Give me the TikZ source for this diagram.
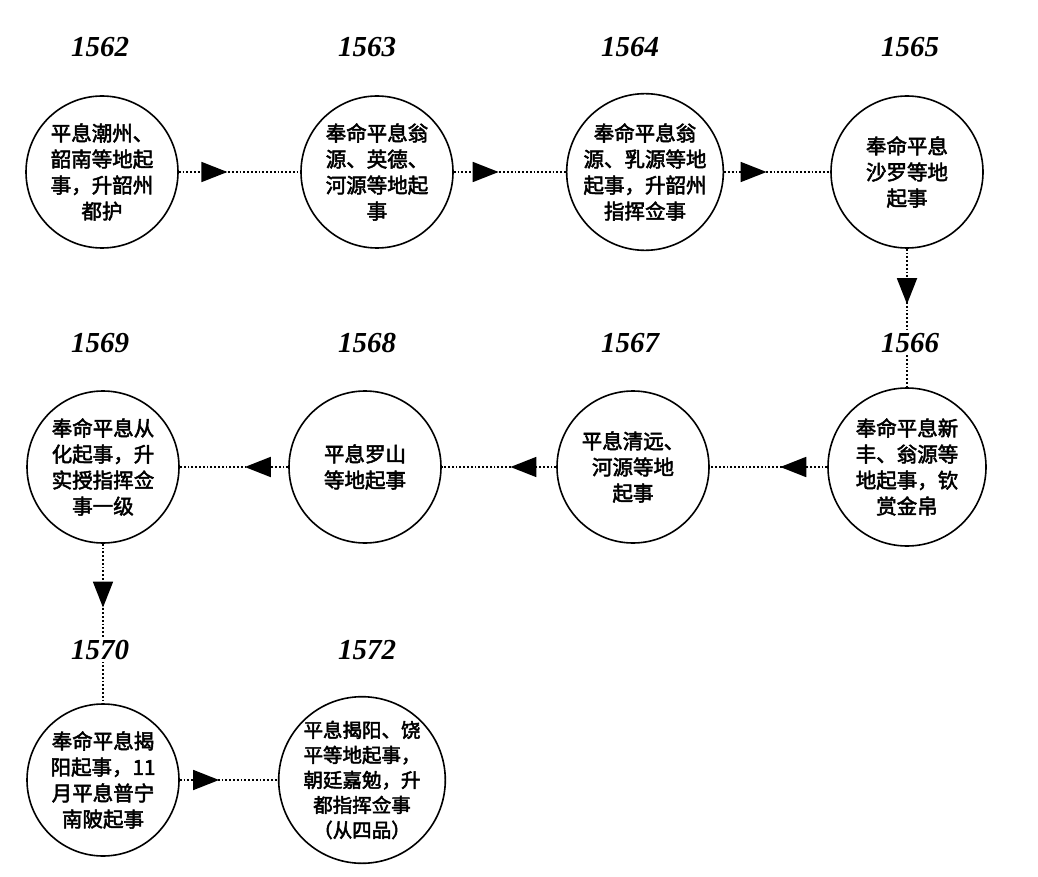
\documentclass[tikz,border=0pt]{standalone}
\usepackage{fontspec}
\setmainfont{Liberation Serif}
\newfontfamily\cjk[FakeBold=2.5]{Noto Sans CJK SC}
\usetikzlibrary{decorations.markings,arrows.meta}
\tikzset{
 ev/.style={circle,draw,line width=1.6pt,minimum size=152pt,inner sep=0pt,align=center,font=\cjk\fontsize{20.5}{26}\selectfont},
 yr/.style={font=\bfseries\itshape\fontsize{29}{30}\selectfont,fill=white,inner sep=2pt},
 con/.style={dotted,line width=1.8pt,postaction={decorate},decoration={markings,mark=at position 0.4 with {\arrow[solid]{Triangle[length=26pt,width=20pt]}}}}
}
\begin{document}
\begin{tikzpicture}[x=1pt,y=-1pt]
\useasboundingbox (0,0) rectangle (1038,877);
\node[ev] (a) at (102,172) {平息潮州、\\韶南等地起\\事，升韶州\\都护};
\node[ev] (b) at (377,172) {奉命平息翁\\源、英德、\\河源等地起\\事};
\node[ev] (c) at (645,172) {奉命平息翁\\源、乳源等地\\起事，升韶州\\指挥佥事};
\node[ev] (d) at (907,172) {奉命平息\\沙罗等地\\起事};
\node[ev,minimum size=158pt] (e) at (907,467) {奉命平息新\\丰、翁源等\\地起事，钦\\赏金帛};
\node[ev] (f) at (633,467) {平息清远、\\河源等地\\起事};
\node[ev] (g) at (365,467) {平息罗山\\等地起事};
\node[ev] (h) at (103,467) {奉命平息从\\化起事，升\\实授指挥佥\\事一级};
\node[ev] (i) at (103,780) {奉命平息揭\\阳起事，11\\月平息普宁\\南陂起事};
\node[ev,font=\cjk\fontsize{19.5}{25}\selectfont] (j) at (362,780) {平息揭阳、饶\\平等地起事，\\朝廷嘉勉，升\\都指挥佥事\\（从四品）};
\draw[con] (a) -- (b);
\draw[con] (b) -- (c);
\draw[con] (c) -- (d);
\draw[con] (d) -- (e);
\draw[con] (e) -- (f);
\draw[con] (f) -- (g);
\draw[con] (g) -- (h);
\draw[con] (h) -- (i);
\draw[con] (i) -- (j);
\node[yr] (ya) at (100,47) {1562};
\node[yr] (yb) at (367,47) {1563};
\node[yr] (yc) at (630,47) {1564};
\node[yr] (yd) at (910,47) {1565};
\node[yr] (ye) at (910,343) {1566};
\node[yr] (yf) at (630,343) {1567};
\node[yr] (yg) at (367,343) {1568};
\node[yr] (yh) at (100,343) {1569};
\node[yr] (yi) at (100,650) {1570};
\node[yr] (yj) at (367,650) {1572};
\end{tikzpicture}
\end{document}
